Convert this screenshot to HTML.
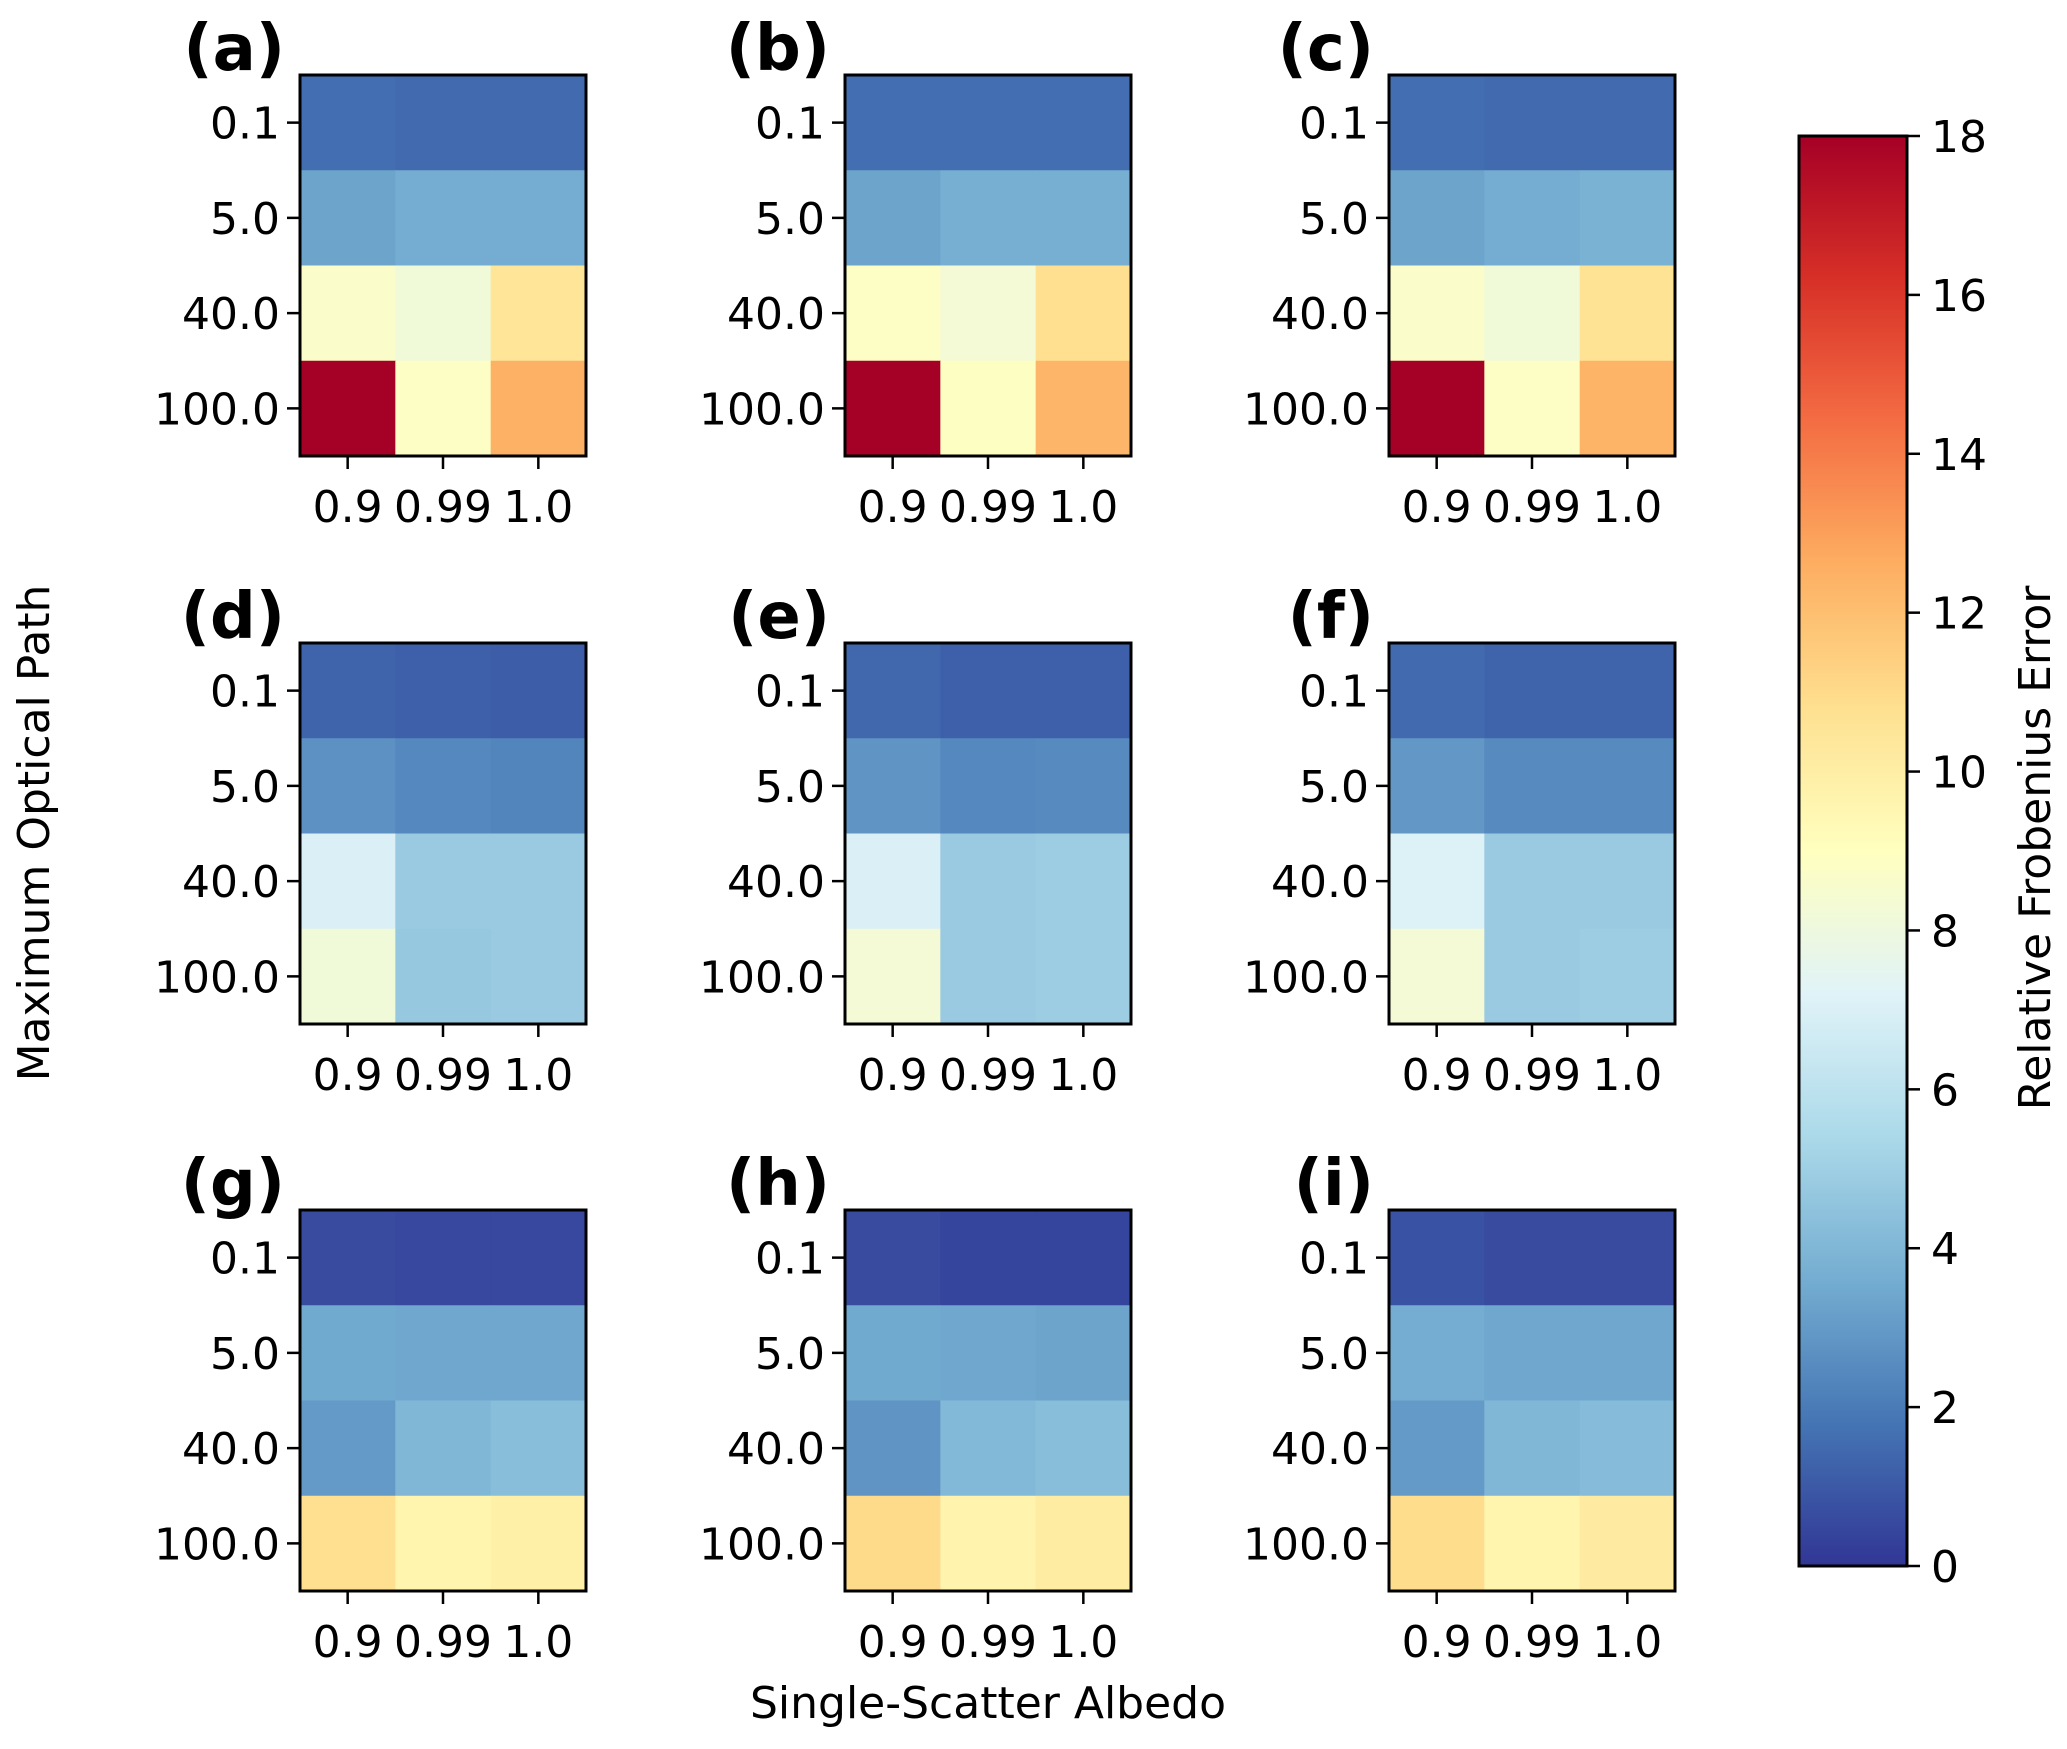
<!DOCTYPE html>
<html><head><meta charset="utf-8"><style>
html,body{margin:0;padding:0;background:#fff}
svg text{font-family:"DejaVu Sans","Liberation Sans",sans-serif;fill:#000}
</style></head><body>
<svg id="fig" width="2067" height="1744" viewBox="0 0 2067 1744" xmlns="http://www.w3.org/2000/svg">
<defs>
<linearGradient id="cmapgrad" x1="0" y1="1" x2="0" y2="0">
<stop offset="0" stop-color="#313695"/><stop offset="0.1" stop-color="#4575b4"/><stop offset="0.2" stop-color="#74add1"/><stop offset="0.3" stop-color="#abd9e9"/><stop offset="0.4" stop-color="#e0f3f8"/><stop offset="0.5" stop-color="#ffffbf"/><stop offset="0.6" stop-color="#fee090"/><stop offset="0.7" stop-color="#fdae61"/><stop offset="0.8" stop-color="#f46d43"/><stop offset="0.9" stop-color="#d73027"/><stop offset="1" stop-color="#a50026"/>
</linearGradient>
</defs>
<g id="panels"></g>
<text transform="translate(49,833) rotate(-90)" text-anchor="middle" font-size="44">Maximum Optical Path</text>
<text x="988" y="1718" text-anchor="middle" font-size="44">Single-Scatter Albedo</text>
<g id="cbar"></g>
</svg>
<script>
const albedoLabels = ["0.9","0.99","1.0"];
const pathLabels = ["0.1","5.0","40.0","100.0"];
const panelLabels = ["(a)","(b)","(c)","(d)","(e)","(f)","(g)","(h)","(i)"];
const panelA = [[1.6,1.5,1.5],[3.3,3.6,3.6],[8.7,8.2,10.5],[18,8.8,12.5]];
const panelB = [[1.6,1.6,1.6],[3.3,3.7,3.7],[8.8,8.3,10.8],[18,8.9,12.3]];
const panelC = [[1.6,1.5,1.5],[3.3,3.6,3.8],[8.7,8.2,10.6],[18,8.8,12.4]];
const panelD = [[1.3,1.2,1.1],[2.7,2.4,2.3],[7.0,4.8,4.8],[8.2,4.7,4.8]];
const panelE = [[1.4,1.2,1.2],[2.8,2.4,2.5],[7.0,4.8,4.9],[8.3,4.8,4.9]];
const panelF = [[1.5,1.3,1.3],[2.9,2.5,2.5],[7.1,4.8,4.8],[8.3,4.8,4.9]];
const panelG = [[0.6,0.5,0.5],[3.5,3.4,3.4],[3.0,4.0,4.3],[10.8,9.6,9.9]];
const panelH = [[0.6,0.4,0.4],[3.5,3.4,3.3],[2.8,4.1,4.3],[11.0,9.7,10.1]];
const panelI = [[0.8,0.6,0.6],[3.6,3.4,3.4],[3.0,4.0,4.2],[10.9,9.6,10.2]];
const cbarTicks = [0,2,4,6,8,10,12,14,16,18];
const vmin = 0, vmax = 18;

const allPanels = [panelA,panelB,panelC,panelD,panelE,panelF,panelG,panelH,panelI];
const NS = "http://www.w3.org/2000/svg";
const stops = ["#313695","#4575b4","#74add1","#abd9e9","#e0f3f8","#ffffbf","#fee090","#fdae61","#f46d43","#d73027","#a50026"];
function hex(h){return [1,3,5].map(i=>parseInt(h.substr(i,2),16));}
function cmap(v){
  let t=Math.max(0,Math.min(1,(v-vmin)/(vmax-vmin)))*10;
  let i=Math.min(9,Math.floor(t)), f=t-i;
  let a=hex(stops[i]), b=hex(stops[i+1]);
  return "rgb("+a.map((c,k)=>Math.round(c+(b[k]-c)*f)).join(",")+")";
}
function mk(tag,attrs,parent){const e=document.createElementNS(NS,tag);for(const k in attrs)e.setAttribute(k,attrs[k]);parent.appendChild(e);return e;}
const colX=[300,845,1389], rowY=[75,643,1210], W=286, H=381;
const g=document.getElementById("panels");
allPanels.forEach((data,p)=>{
  const x0=colX[p%3], y0=rowY[Math.floor(p/3)];
  const xs=v=>x0+v*W/albedoLabels.length, ys=v=>y0+v*H/pathLabels.length;
  const pg=mk("g",{},g);
  
  
  data.forEach((row,r)=>row.forEach((v,c)=>{
    const rc=mk("rect",{x:xs(c),y:ys(r),width:W/3+0.5,height:H/4+0.5,fill:cmap(v)},pg);
    
    
  }));
  const fr=mk("rect",{x:x0,y:y0,width:W,height:H,fill:"none",stroke:"#000","stroke-width":3},pg);
  
  
  pathLabels.forEach((l,r)=>{
    const y=ys(r+0.5);
    mk("line",{x1:x0-13,x2:x0,y1:y,y2:y,stroke:"#000","stroke-width":2.5},pg);
    const t=mk("text",{x:x0-20,y:y+16,"text-anchor":"end","font-size":44},pg);
    t.textContent=l;
    
    
  });
  albedoLabels.forEach((l,c)=>{
    const x=xs(c+0.5);
    mk("line",{x1:x,x2:x,y1:y0+H,y2:y0+H+13,stroke:"#000","stroke-width":2.5},pg);
    const t=mk("text",{x:x,y:y0+H+66,"text-anchor":"middle","font-size":44},pg);
    t.textContent=l;
    
    
  });
  const pl=mk("text",{x:x0-15,y:y0-5,"text-anchor":"end","font-size":64,"font-weight":"bold"},pg);
  pl.textContent=panelLabels[p];
  
  
});
const cb=document.getElementById("cbar");
const cx=1799, cw=108, ct=136, cbh=1430;
const cy=v=>ct+cbh*(1-(v-vmin)/(vmax-vmin));
mk("rect",{x:cx,y:ct,width:cw,height:cbh,fill:"url(#cmapgrad)",stroke:"#000","stroke-width":3},cb);
cbarTicks.forEach(v=>{
  mk("line",{x1:cx+cw,x2:cx+cw+13,y1:cy(v),y2:cy(v),stroke:"#000","stroke-width":2.5},cb);
  const t=mk("text",{x:cx+cw+24,y:cy(v)+16,"font-size":44},cb);
  t.textContent=v;
  
  
});
const ctl=mk("text",{transform:"translate(2050,848) rotate(-90)","text-anchor":"middle","font-size":44},cb);
ctl.textContent="Relative Frobenius Error";


</script>
</body></html>
